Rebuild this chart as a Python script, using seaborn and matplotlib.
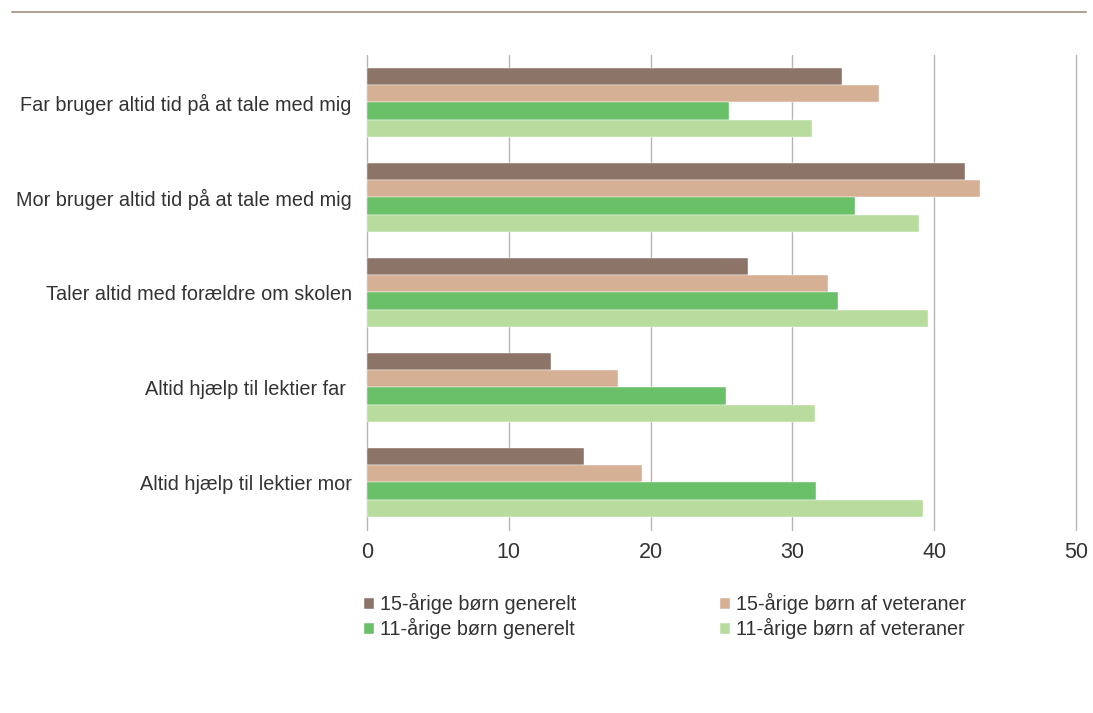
import pandas as pd
import matplotlib
matplotlib.use("Agg")
import matplotlib.pyplot as plt
import seaborn as sns
from matplotlib.lines import Line2D

# Data
categories = [
    "Far bruger altid tid på at tale med mig",
    "Mor bruger altid tid på at tale med mig",
    "Taler altid med forældre om skolen",
    "Altid hjælp til lektier far ",
    "Altid hjælp til lektier mor",
]
series = [
    "15-årige børn generelt",
    "15-årige børn af veteraner",
    "11-årige børn generelt",
    "11-årige børn af veteraner",
]
vals_15_gen = [33.5, 42.2, 26.9, 13.0, 15.3]
vals_15_vet = [36.1, 43.2, 32.5, 17.7, 19.4]
vals_11_gen = [25.5, 34.4, 33.2, 25.3, 31.7]
vals_11_vet = [31.4, 38.9, 39.6, 31.6, 39.2]
colors = ["#8c7468", "#d5b095", "#6abf69", "#b8dc9d"]
xticks = [0, 10, 20, 30, 40, 50]

# Long format for seaborn
rows = []
for name, vals in zip(series, [vals_15_gen, vals_15_vet, vals_11_gen, vals_11_vet]):
    for cat, v in zip(categories, vals):
        rows.append({"Kategori": cat, "Serie": name, "Procent": v})
df = pd.DataFrame(rows)

sns.set_theme(style="white")
plt.rcParams["font.family"] = ["Liberation Sans", "DejaVu Sans"]

fig = plt.figure(figsize=(10.93, 7.13), dpi=100)
ax = fig.add_axes([0.3358, 0.2567, 0.6486, 0.6662])

sns.barplot(data=df, y="Kategori", x="Procent", hue="Serie", hue_order=series,
            order=categories, palette=colors, saturation=1, orient="h", width=0.73,
            edgecolor="white", linewidth=0.3, ax=ax, legend=True)

ax.set_xlim(0, 50)
ax.set_ylim(4.5, -0.5)
ax.set_xticks(xticks)
ax.set_xticklabels([str(t) for t in xticks], fontsize=15.5, color="#333333")
ax.tick_params(axis="y", labelsize=14.3, labelcolor="#333333", length=0, pad=11)
ax.tick_params(axis="x", length=0, pad=9)
ax.set_xlabel("")
ax.set_ylabel("")
for s in ax.spines.values():
    s.set_visible(False)
ax.grid(axis="x", color="#b5b5b5", linewidth=1)
for gl in ax.get_xgridlines():
    gl.set_clip_on(False)
ax.set_axisbelow(True)

# Legend below the plot, two columns filled row by row
handles, labels = ax.get_legend_handles_labels()
order = [0, 2, 1, 3]
ax.legend([handles[i] for i in order], [labels[i] for i in order], ncol=2,
          loc="upper left", bbox_to_anchor=(-0.029, -0.096),
          frameon=False, fontsize=14.2, handlelength=0.5, handleheight=0.5,
          handletextpad=0.3, columnspacing=7.3, labelspacing=0.2,
          labelcolor="#333333")

# Thin rule across the top
fig.add_artist(Line2D([12 / 1093, 1086 / 1093], [1 - 12 / 713, 1 - 12 / 713],
                      color="#b0a49a", linewidth=1.5))

fig.savefig("out.png", dpi=100, facecolor="white")
